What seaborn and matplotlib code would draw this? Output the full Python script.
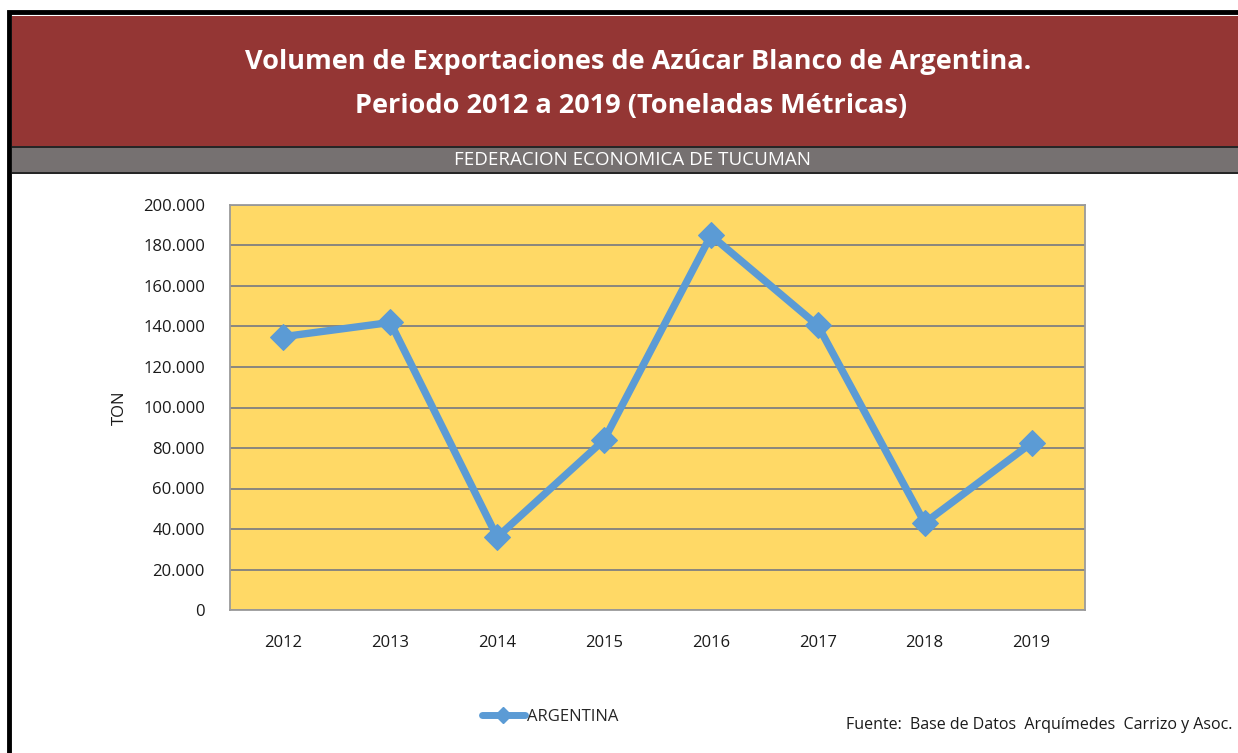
import matplotlib
matplotlib.use("Agg")
import matplotlib.pyplot as plt
import matplotlib.ticker as mticker
from matplotlib.patches import Rectangle
from matplotlib.lines import Line2D
import seaborn as sns
import pandas as pd

years = ["2012", "2013", "2014", "2015", "2016", "2017", "2018", "2019"]
argentina = [135000, 142000, 36000, 84000, 185000, 140500, 43000, 82500]
y_ticks = [0, 20000, 40000, 60000, 80000, 100000, 120000, 140000, 160000, 180000, 200000]

title_l1 = "Volumen de Exportaciones de Azúcar Blanco de Argentina."
title_l2 = "Periodo 2012 a 2019 (Toneladas Métricas)"
subtitle = "FEDERACION ECONOMICA DE TUCUMAN"
source = "Fuente:  Base de Datos  Arquímedes  Carrizo y Asoc."

sns.set_theme(style="white")
plt.rcParams['font.family'] = ['Open Sans', 'DejaVu Sans']

W, H = 1238, 753
fig = plt.figure(figsize=(W / 100, H / 100), dpi=100)
fig.patch.set_facecolor("white")

def fx(px):
    return px / W

def fy(py):
    return 1 - py / H

# frame and bands
fig.patches.append(Rectangle((fx(9), -0.1), fx(W), fy(12) + 0.1, transform=fig.transFigure,
                             facecolor="white", edgecolor="black", linewidth=3.5, zorder=-2))
fig.patches.append(Rectangle((fx(12), fy(146)), fx(W), (146 - 16) / H, transform=fig.transFigure,
                             facecolor="#943634", edgecolor="none", zorder=-1))
fig.patches.append(Rectangle((fx(12), fy(174)), fx(W), (174 - 146) / H, transform=fig.transFigure,
                             facecolor="#262626", edgecolor="none", zorder=-1))
fig.patches.append(Rectangle((fx(12), fy(172)), fx(W), (172 - 148) / H, transform=fig.transFigure,
                             facecolor="#767171", edgecolor="none", zorder=-1))

fig.text(fx(638), fy(62), title_l1, color="white", fontsize=19.5, fontweight="bold",
         ha="center", va="center")
fig.text(fx(631), fy(106), title_l2, color="white", fontsize=19.5, fontweight="bold",
         ha="center", va="center")
fig.text(fx(633), fy(160), subtitle, color="white", fontsize=13.5, ha="center", va="center",
         family=['Liberation Sans Narrow', 'Open Sans', 'DejaVu Sans'])

ax = fig.add_axes([fx(230), fy(610), fx(1085) - fx(230), (610 - 205) / H])
ax.set_zorder(5)
ax.set_facecolor("#FFD966")

df = pd.DataFrame({"x": list(range(len(years))), "v": argentina})
sns.lineplot(data=df, x="x", y="v", ax=ax, color="#5B9BD5", linewidth=5.3,
             marker="D", markersize=13, markeredgecolor="#5B9BD5", zorder=3)

ax.set_xlim(-0.5, len(years) - 0.5)
ax.set_ylim(0, 200000)
ax.set_yticks(y_ticks)
ax.yaxis.set_major_formatter(mticker.FuncFormatter(lambda v, p: f"{int(v):,}".replace(",", ".")))
ax.set_xticks(range(len(years)))
ax.set_xticklabels(years)
ax.tick_params(axis="both", length=0, labelsize=12, colors="#1a1a1a")
ax.tick_params(axis="y", pad=18)
ax.tick_params(axis="x", pad=18)
ax.grid(axis="y", color="#808080", linewidth=1.3)
ax.set_axisbelow(True)
for s in ax.spines.values():
    s.set_color("#9a9a9a")
    s.set_linewidth(1.3)
ax.set_xlabel("")
ax.set_ylabel("TON", fontsize=12, color="#1a1a1a")
ax.yaxis.set_label_coords((128 - 230) / (1085 - 230), 0.5)

# legend
handle = Line2D([0], [0], color="#5B9BD5", linewidth=5, marker="D", markersize=8)
fig.legend([handle], ["ARGENTINA"], loc="center", bbox_to_anchor=(fx(550), fy(717)),
           frameon=False, fontsize=12, handlelength=2.6, handletextpad=0.1)

fig.text(fx(1232), fy(725), source, fontsize=11.5, ha="right", va="center", color="#1a1a1a",
         family=['Liberation Sans Narrow', 'Open Sans', 'DejaVu Sans'])

fig.savefig("out.png", dpi=100)
